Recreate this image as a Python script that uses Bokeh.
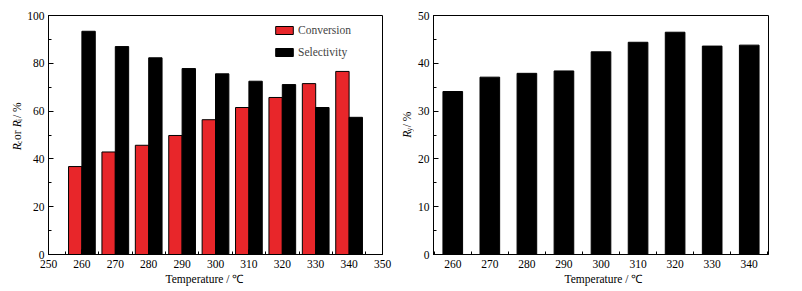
import math
from bokeh.plotting import figure
from bokeh.layouts import row
from bokeh.models import (ColumnDataSource, SingleIntervalTicker, Range1d, Label,
                          Legend, LegendItem, Title)
from bokeh.transform import dodge
from bokeh.embed import file_html
from bokeh.resources import INLINE

# ---- data ----
temperature = [260, 270, 280, 290, 300, 310, 320, 330, 340]
conversion = [36.8, 42.9, 45.7, 49.8, 56.4, 61.5, 65.7, 71.5, 76.6]
selectivity = [93.4, 87.0, 82.3, 77.8, 75.6, 72.5, 71.1, 61.5, 57.4]
yield_rate = [34.1, 37.1, 37.9, 38.4, 42.4, 44.4, 46.5, 43.6, 43.8]

FONT = "Liberation Serif"
RED = "#e8262a"
H = 291
XLABEL = "Temperature / \u2103"

src = ColumnDataSource(dict(t=temperature, conv=conversion, sel=selectivity, y=yield_rate))


def style(p, xlabel_offset):
    p.outline_line_color = "black"
    p.outline_line_width = 1
    p.outline_line_alpha = 1
    p.xgrid.visible = False
    p.ygrid.visible = False
    p.background_fill_color = "white"
    p.border_fill_color = "white"
    for ax in p.axis:
        ax.axis_line_color = "black"
        ax.major_tick_in = 5
        ax.major_tick_out = 0
        ax.minor_tick_in = 3
        ax.minor_tick_out = 0
        ax.major_tick_line_color = "black"
        ax.minor_tick_line_color = "black"
        ax.major_label_text_font = FONT
        ax.major_label_text_font_size = "11.5px"
        ax.major_label_text_color = "black"
    p.xaxis.major_label_standoff = 5
    p.yaxis.major_label_standoff = 4
    p.add_layout(Title(text=XLABEL, align="left", offset=xlabel_offset, standoff=0,
                       text_font=FONT, text_font_size="11.5px", text_font_style="normal",
                       text_color="black"), "below")


W = {"R": 0.667, "c": 0.444, "i": 0.278, "y": 0.5, "o": 0.5, "r": 0.333, " ": 0.25,
     "/": 0.278, "%": 0.833}


def label_column(width, pieces, x_center, y_start):
    """A narrow, axis-less figure holding a rotated, composite axis title."""
    f = figure(width=width, height=H, output_backend="svg", toolbar_location=None,
               x_range=Range1d(0, width), y_range=Range1d(0, H),
               x_axis_type=None, y_axis_type=None, min_border=0,
               outline_line_color=None)
    f.xgrid.visible = False
    f.ygrid.visible = False
    f.background_fill_color = "white"
    f.border_fill_color = "white"
    y = y_start
    for txt, size, italic, sub in pieces:
        f.add_layout(Label(x=x_center + (3 if sub else 0), y=y,
                           text=txt, angle=math.pi / 2, text_align="left",
                           text_baseline="middle", text_font=FONT,
                           text_font_size=f"{size}px",
                           text_font_style="italic" if italic else "normal",
                           text_color="black"))
        y += size * sum(W.get(ch, 0.5) for ch in txt) + (1.5 if sub else 0)
    return f


# ---- left figure ----
lab1 = label_column(24, [("R", 11.5, True, False), ("c", 7.5, False, True),
                         (" or ", 11.5, False, False), ("R", 11.5, True, False),
                         ("i", 7.5, False, True), (" / %", 11.5, False, False)], 16, 127)

p1 = figure(width=376, height=H, output_backend="svg", toolbar_location=None,
            x_range=Range1d(250, 350), y_range=Range1d(0, 100),
            min_border_left=24, min_border_right=18, min_border_top=15, min_border_bottom=37)
r1 = p1.vbar(x=dodge("t", -2, range=p1.x_range), top="conv", width=4, source=src,
             fill_color=RED, line_color="black", line_width=1)
r2 = p1.vbar(x=dodge("t", 2, range=p1.x_range), top="sel", width=4, source=src,
             fill_color="black", line_color="black", line_width=1)
p1.xaxis.ticker = SingleIntervalTicker(interval=10, num_minor_ticks=2)
p1.yaxis.ticker = SingleIntervalTicker(interval=20, num_minor_ticks=2)
style(p1, 117)
leg = Legend(items=[LegendItem(label="Conversion", renderers=[r1]),
                    LegendItem(label="Selectivity", renderers=[r2])],
             location=(225, 196), orientation="vertical",
             glyph_width=22, glyph_height=10, label_height=10, spacing=10,
             padding=0, margin=0, label_standoff=3,
             label_text_font=FONT, label_text_font_size="11.5px",
             border_line_alpha=0, background_fill_alpha=0)
p1.add_layout(leg)

# ---- right figure ----
lab2 = label_column(14, [("R", 11.5, True, False), ("y", 7.5, False, True),
                         (" / %", 11.5, False, False)], 6, 142)

p2 = figure(width=388, height=H, output_backend="svg", toolbar_location=None,
            x_range=Range1d(254.8, 345.2), y_range=Range1d(0, 50),
            min_border_left=18, min_border_right=34, min_border_top=15, min_border_bottom=37)
p2.vbar(x="t", top="y", width=5.3, source=src, fill_color="black", line_color="black")
p2.xaxis.ticker = SingleIntervalTicker(interval=10, num_minor_ticks=2)
p2.yaxis.ticker = SingleIntervalTicker(interval=10, num_minor_ticks=2)
style(p2, 131)

layout = row(lab1, p1, lab2, p2)
open("out.html", "w").write(file_html(layout, INLINE))
